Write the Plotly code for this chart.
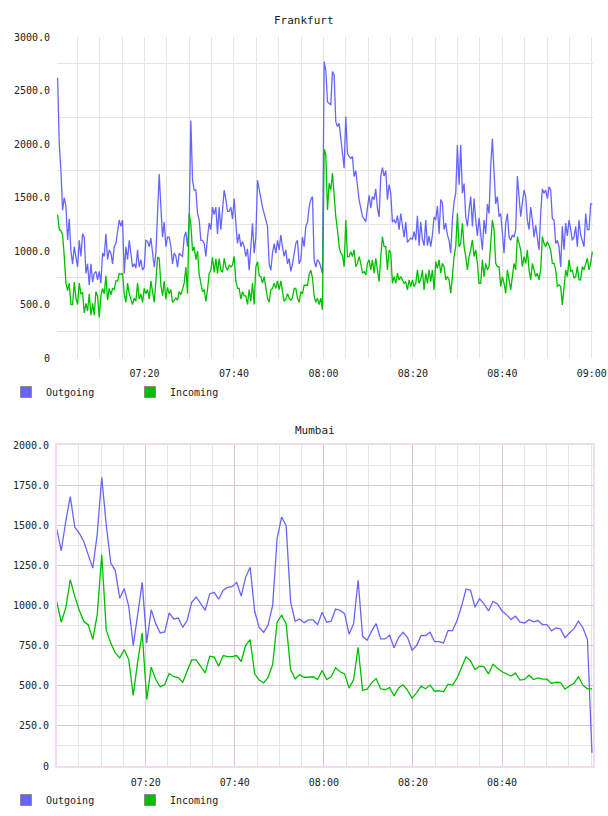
import pandas as pd
import plotly.graph_objects as go

# ---------------- data ----------------
fra_outgoing = [
    2620, 2000, 1750, 1380, 1500, 1420, 1100, 1300, 1000, 880,
    1040, 950, 850, 1100, 950, 1160, 1130, 790, 880, 680,
    880, 710, 790, 810, 730, 810, 700, 980, 950, 1160,
    920, 1010, 980, 880, 1040, 1070, 1160, 1290, 1230, 1290,
    790, 1040, 920, 1100, 980, 850, 880, 840, 1010, 850,
    920, 820, 850, 1100, 1090, 1040, 1120, 950, 850, 980,
    1450, 1720, 1410, 1130, 1270, 1040, 1130, 1130, 1040, 880,
    980, 950, 850, 980, 960, 950, 1130, 1180, 1040, 1290,
    2220, 1660, 1570, 1570, 1350, 1290, 1100, 1100, 1070, 950,
    1130, 1260, 1200, 1410, 1340, 1410, 1160, 1410, 1200, 1380,
    1570, 1480, 1370, 1370, 1410, 1300, 1490, 1260, 1070, 1160,
    1040, 1090, 1040, 950, 1020, 820, 1040, 1260, 980, 1130,
    1660, 1570, 1480, 1410, 1350, 1290, 1230, 880, 820, 980,
    1070, 980, 1100, 1010, 1150, 1040, 950, 1010, 880, 930,
    810, 880, 960, 1070, 1100, 880, 920, 1130, 1040, 1230,
    1270, 1410, 1480, 1510, 920, 850, 920, 900, 850, 790,
    2770, 2692, 2396, 2381, 2365, 2677, 2645, 2209, 2163, 2194,
    2054, 1944, 1773, 2256, 1913, 1882, 1867, 1882, 1695, 1750,
    1600, 1477, 1400, 1322, 1300, 1275, 1400, 1520, 1400, 1510,
    1480, 1580, 1400, 1320, 1700, 1780, 1700, 1750, 1480, 1620,
    1540, 1270, 1290, 1260, 1330, 1200, 1350, 1240, 1130, 1270,
    1080, 1100, 1120, 1110, 1180, 1100, 1330, 1050, 1270, 1110,
    1050, 1290, 1050, 1140, 1040, 1150, 1320, 1290, 1420, 1160,
    1480, 1450, 1200, 1260, 1150, 1100, 980, 1300, 1460, 1540,
    1990, 1620, 1990, 1540, 1630, 1320, 1230, 1380, 1510, 1230,
    1490, 1290, 1140, 1310, 1140, 1010, 1290, 1160, 1440, 1350,
    1790, 2050, 1740, 1440, 1510, 1320, 1350, 1150, 980, 1260,
    1350, 1130, 1100, 1150, 1130, 1200, 1700, 1510, 1320, 1450,
    1570, 1510, 1290, 1200, 1410, 1290, 1130, 1240, 1120, 1010,
    1350, 1580, 1540, 1570, 1490, 1600, 1570, 1300, 1290, 1070,
    1100, 1040, 850, 1230, 1010, 1260, 1140, 1290, 1200, 1100,
    1130, 1230, 1040, 1290, 1150, 1100, 1040, 1350, 1200, 1200,
    1440, 1440,
]

fra_incoming = [
    1340, 1200, 1190, 1150, 950, 700, 630, 700, 500, 500,
    710, 560, 500, 700, 600, 610, 420, 510, 440, 600,
    400, 510, 400, 620, 580, 380, 580, 650, 600, 770,
    540, 650, 590, 650, 640, 720, 720, 790, 780, 790,
    600, 520, 700, 600, 550, 500, 560, 530, 700, 550,
    600, 520, 650, 600, 640, 550, 720, 600, 520, 720,
    940, 930, 680, 580, 720, 550, 660, 600, 640, 520,
    540, 560, 540, 620, 590, 650, 700, 850, 600, 1350,
    1250, 1000, 1040, 920, 1000, 780, 680, 620, 640, 530,
    640, 790, 820, 940, 800, 930, 790, 930, 820, 800,
    930, 850, 820, 870, 850, 870, 950, 720, 650, 650,
    550, 620, 580, 580, 500, 640, 530, 700, 500, 850,
    900, 770, 760, 700, 760, 640, 560, 520, 640, 650,
    700, 650, 720, 640, 720, 620, 530, 550, 600, 560,
    540, 560, 650, 650, 560, 520, 620, 600, 680, 680,
    680, 780, 820, 750, 580, 520, 560, 500, 560, 450,
    1951, 1900, 1384, 1633, 1571, 1726, 1508, 1322, 1197, 1041,
    979, 963, 854, 1290, 948, 948, 994, 948, 1010, 854,
    885, 948, 885, 792, 808, 776, 885, 917, 823, 917,
    792, 932, 823, 714, 948, 1135, 1041, 1041, 823, 1010,
    979, 698, 761, 698, 792, 730, 761, 730, 698, 714,
    636, 730, 667, 730, 667, 698, 823, 698, 730, 823,
    636, 792, 698, 823, 714, 823, 636, 901, 838, 917,
    792, 885, 854, 730, 761, 730, 605, 761, 948, 1041,
    1353, 1041, 1072, 1259, 1041, 948, 823, 948, 1010, 1103,
    948, 1010, 885, 698, 698, 917, 761, 885, 823, 854,
    1041, 1290, 1197, 885, 854, 854, 667, 761, 698, 605,
    823, 730, 636, 761, 885, 823, 1135, 1072, 1010, 854,
    948, 885, 1010, 823, 730, 885, 823, 761, 792, 730,
    823, 1135, 1072, 1041, 1088, 1041, 1010, 885, 885, 823,
    667, 683, 667, 496, 698, 823, 761, 917, 808, 823,
    745, 761, 854, 730, 730, 854, 823, 885, 932, 823,
    885, 994,
]

mum_outgoing = [
    1476, 1341, 1524, 1679, 1488, 1451, 1399, 1316, 1233, 1445,
    1799, 1503, 1265, 1219, 1045, 1105, 995, 750, 937, 1144,
    767, 974, 887, 829, 835, 954, 916, 922, 864, 908,
    1020, 1053, 1012, 970, 1072, 1082, 1039, 1095, 1113, 1117,
    1144, 1059, 1177, 1238, 964, 864, 833, 879, 1001, 1420,
    1551, 1497, 1020, 902, 916, 893, 910, 910,
    881, 958, 896, 902, 978, 970, 949, 821, 887, 1157,
    808, 784, 840, 887, 792, 792, 815, 736, 800, 833,
    800, 721, 750, 813, 813, 833, 775, 775, 767, 844,
    844, 906, 995, 1103, 1095, 989, 1043, 1010, 966, 1026,
    1010, 966, 943, 912, 933, 896, 891, 912, 898, 906,
    881, 881, 842, 860, 854, 800, 829, 856, 902, 860,
    788, 83,
]

mum_incoming = [
    1022, 896, 985, 1161, 1057, 970, 902, 879, 788, 943,
    1316, 846, 767, 705, 674, 726, 663, 440, 653, 829,
    415, 616, 539, 493, 508, 576, 556, 551, 522, 591,
    661, 661, 622, 580, 684, 678, 622, 688, 682, 682,
    688, 651, 752, 788, 574, 535, 518, 553, 632, 896,
    941, 885, 601, 543, 568, 553, 553, 556,
    539, 595, 539, 556, 612, 587, 574, 485, 539, 740,
    471, 479, 518, 545, 481, 475, 489, 437, 487, 506,
    471, 423, 456, 498, 481, 504, 466, 469, 462, 510,
    504, 547, 614, 680, 655, 601, 622, 618, 574, 634,
    609, 587, 574, 560, 578, 535, 539, 566, 539, 549,
    541, 541, 514, 522, 520, 479, 498, 516, 556, 502,
    481, 481,
]

fra_times = pd.date_range("2024-01-01 07:00:34", "2024-01-01 09:00:07", periods=len(fra_outgoing))
mum_times = pd.date_range("2024-01-01 07:00:02", "2024-01-01 09:00:11", periods=len(mum_outgoing))

fra_yvals = [0, 500, 1000, 1500, 2000, 2500, 3000]
fra_ytext = ["0", "500.0", "1000.0", "1500.0", "2000.0", "2500.0", "3000.0"]
fra_ygrid = [250, 750, 1250, 1750, 2250, 2750]
mum_yvals = [0, 250, 500, 750, 1000, 1250, 1500, 1750, 2000]
mum_ytext = ["0", "250.0", "500.0", "750.0", "1000.0", "1250.0", "1500.0", "1750.0", "2000.0"]
mum_ygrid = [125, 375, 625, 875, 1125, 1375, 1625, 1875]
mum_xticks = ["2024-01-01 07:20", "2024-01-01 07:40", "2024-01-01 08:00",
              "2024-01-01 08:20", "2024-01-01 08:40"]
mum_xtext = ["07:20", "07:40", "08:00", "08:20", "08:40"]

# ---------------- styles ----------------
BLUE = "#6666ff"
GREEN = "#00bf00"
FONT = "DejaVu Sans Mono"
TXT = "#222222"
GRID_TOP = "#e4e4e4"
GRID_MAJ = "#dcc4dc"
GRID_MIN = "#e8e0ea"
FRAME = "#f0dcf0"

W, H = 608, 816
ML, MR, MT, MB = 57, 15, 37, 50
PH = H - MT - MB
PW = W - ML - MR


def py(px):  # pixel row -> paper y
    return (H - MB - px) / PH


def pxx(px):  # pixel column -> paper x
    return (px - ML) / PW


fig = go.Figure()

fig.add_trace(go.Scatter(x=fra_times, y=fra_outgoing, mode="lines", line=dict(color=BLUE, width=1.3),
                         xaxis="x", yaxis="y", showlegend=False, name="Outgoing"))
fig.add_trace(go.Scatter(x=fra_times, y=fra_incoming, mode="lines", line=dict(color=GREEN, width=1.3),
                         xaxis="x", yaxis="y", showlegend=False, name="Incoming"))
fig.add_trace(go.Scatter(x=mum_times, y=mum_outgoing, mode="lines", line=dict(color=BLUE, width=1.3),
                         xaxis="x2", yaxis="y2", showlegend=False, name="Outgoing"))
fig.add_trace(go.Scatter(x=mum_times, y=mum_incoming, mode="lines", line=dict(color=GREEN, width=1.3),
                         xaxis="x2", yaxis="y2", showlegend=False, name="Incoming"))

# legend entries (square swatches)
for leg, xa, ya in (("legend", "x", "y"), ("legend2", "x2", "y2")):
    for nm, col in (("Outgoing", BLUE), ("Incoming", GREEN)):
        fig.add_trace(go.Scatter(x=[None], y=[None], mode="markers", name=nm, legend=leg,
                                 xaxis=xa, yaxis=ya,
                                 marker=dict(symbol="square", size=11, color=col,
                                             line=dict(color="#8a8a8a", width=1))))

xcommon = dict(ticks="outside", ticklen=6, tickcolor="rgba(0,0,0,0)", zeroline=False,
               automargin=False, tickfont=dict(family=FONT, size=10, color=TXT))
ycommon = dict(tickmode="array", ticks="outside", ticklen=4, tickcolor="rgba(0,0,0,0)",
               zeroline=False, automargin=False, tickfont=dict(family=FONT, size=10, color=TXT))

legcommon = dict(orientation="h", xref="container", yref="container", xanchor="left",
                 yanchor="middle", font=dict(family=FONT, size=10, color=TXT),
                 bgcolor="rgba(0,0,0,0)", entrywidth=79, entrywidthmode="pixels",
                 itemclick=False)

fig.update_layout(
    width=W, height=H,
    margin=dict(l=ML, r=MR, t=MT, b=MB, autoexpand=False),
    paper_bgcolor="white", plot_bgcolor="white",
    xaxis=dict(domain=[0, 1], anchor="y",
               range=["2024-01-01 07:00:26", "2024-01-01 09:00:16"],
               tickformat="%H:%M", dtick=20 * 60 * 1000, tick0="2024-01-01 07:00:00",
               showgrid=True, gridcolor=GRID_TOP, gridwidth=1, showline=False,
               minor=dict(dtick=5 * 60 * 1000, tick0="2024-01-01 07:00:00",
                          showgrid=True, gridcolor=GRID_TOP, gridwidth=1),
               **xcommon),
    yaxis=dict(domain=[py(358), 1], anchor="x", range=[0, 3000],
               tickvals=fra_yvals, ticktext=fra_ytext, showgrid=False, showline=False,
               minor=dict(tickmode="array", tickvals=fra_ygrid, showgrid=True,
                          gridcolor=GRID_TOP, gridwidth=1),
               **ycommon),
    xaxis2=dict(domain=[0, 1], anchor="y2",
                range=["2024-01-01 07:00:05", "2024-01-01 09:00:25"],
                tickmode="array", tickvals=mum_xticks, ticktext=mum_xtext,
                showgrid=True, gridcolor=GRID_MAJ, gridwidth=1,
                showline=True, mirror=True, linecolor=FRAME, linewidth=2,
                minor=dict(tickmode="linear", dtick=5 * 60 * 1000, tick0="2024-01-01 07:00:00",
                           showgrid=True, gridcolor=GRID_MIN, gridwidth=1),
                **xcommon),
    yaxis2=dict(domain=[0, py(445)], anchor="x2", range=[0, 2000],
                tickvals=mum_yvals, ticktext=mum_ytext, showgrid=True,
                gridcolor=GRID_MAJ, gridwidth=1,
                showline=True, mirror=True, linecolor=FRAME, linewidth=2,
                minor=dict(tickmode="array", tickvals=mum_ygrid, showgrid=True,
                           gridcolor=GRID_MIN, gridwidth=1),
                **ycommon),
    legend=dict(x=6 / W, y=1 - 392 / H, **legcommon),
    legend2=dict(x=6 / W, y=1 - 800 / H, **legcommon),
    annotations=[
        dict(text="Frankfurt", x=pxx(304), y=py(20), xref="paper", yref="paper",
             showarrow=False, xanchor="center", yanchor="middle",
             font=dict(family=FONT, size=11, color=TXT)),
        dict(text="Mumbai", x=pxx(315), y=py(430), xref="paper", yref="paper",
             showarrow=False, xanchor="center", yanchor="middle",
             font=dict(family=FONT, size=11, color=TXT)),
    ],
)

fig.write_html("out.html")
